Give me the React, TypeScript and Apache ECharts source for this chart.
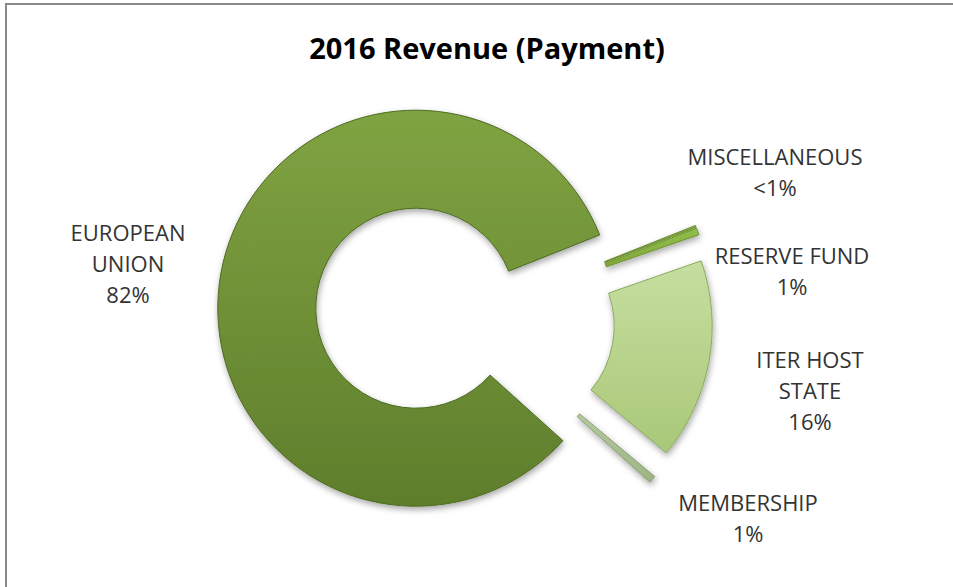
import React, { useEffect, useRef } from "react";
import * as echarts from "echarts";

// ---- data ----
const chartTitle = "2016 Revenue (Payment)";
const categories = ["EUROPEAN\nUNION", "MISCELLANEOUS", "RESERVE FUND", "ITER HOST\nSTATE", "MEMBERSHIP"];
const values = [82.3, 0.15, 0.55, 16.4, 0.6];

// ---- styles / layout (not data) ----
const sliceColors = [
  ["#80A342", "#5F7E2C", "#4E6A22"],
  ["#8DB843", "#7AA236", "#6A8E2C"],
  ["#94BE4A", "#7FA83A", "#6E9430"],
  ["#C6DEA0", "#A9C878", "#8CAA5E"],
  ["#B4C9A0", "#9DB484", "#8AA172"],
];
const labelAnchors: [number, number][] = [
  [128, 263],
  [775, 171],
  [792, 270],
  [810, 390],
  [748, 517],
];

const total = values.reduce((a, b) => a + b, 0);
const pctText = (v: number) => {
  const p = (v / total) * 100;
  return p < 0.5 ? "<1%" : Math.round(p) + "%";
};

export default function App() {
  const ref = useRef<HTMLDivElement>(null);
  useEffect(() => {
    if (!ref.current) return;
    const chart = echarts.init(ref.current, undefined, { renderer: "svg" });
    const data = categories.map((name, i) => {
      const [c1, c2, b] = sliceColors[i];
      const style = {
        color: new echarts.graphic.LinearGradient(0, 0, 0, 1, [
          { offset: 0, color: c1 },
          { offset: 1, color: c2 },
        ]),
        borderColor: b,
        borderWidth: 1,
        shadowBlur: 6,
        shadowColor: "rgba(0,0,0,0.35)",
        shadowOffsetX: 1,
        shadowOffsetY: 3,
      };
      return {
        name,
        value: values[i],
        selected: true,
        itemStyle: style,
        select: { itemStyle: style, label: { show: false } },
      };
    });
    const labelTexts = categories.map((name, i) => ({
      type: "text",
      x: labelAnchors[i][0],
      y: labelAnchors[i][1],
      silent: true,
      style: {
        text: name + "\n" + pctText(values[i]),
        align: "center",
        verticalAlign: "middle",
        fontFamily: "Open Sans",
        fontSize: 22,
        lineHeight: 31,
        fill: "#333333",
      },
    }));
    chart.setOption({
      animation: false,
      backgroundColor: "#ffffff",
      title: {
        text: chartTitle,
        left: 482,
        top: 28,
        textAlign: "center",
        textStyle: {
          fontFamily: "Open Sans",
          fontWeight: "bold",
          fontSize: 29,
          color: "#000000",
        },
      },
      graphic: [
        {
          type: "rect",
          shape: { x: 6, y: 4, width: 1000, height: 700 },
          style: { fill: "none", stroke: "#8A8A8A", lineWidth: 2 },
          silent: true,
        },
        ...labelTexts,
      ],
      series: [
        {
          type: "pie",
          center: [465, 317],
          radius: [100, 198],
          startAngle: -42,
          clockwise: true,
          selectedMode: "multiple",
          selectedOffset: 50,
          avoidLabelOverlap: false,
          emphasis: { disabled: true },
          data,
          label: { show: false },
          labelLine: { show: false },
        },
      ],
    });
    return () => chart.dispose();
  }, []);
  return (
    <div
      ref={ref}
      style={{ position: "absolute", left: 0, top: 0, width: 953, height: 587 }}
    />
  );
}
